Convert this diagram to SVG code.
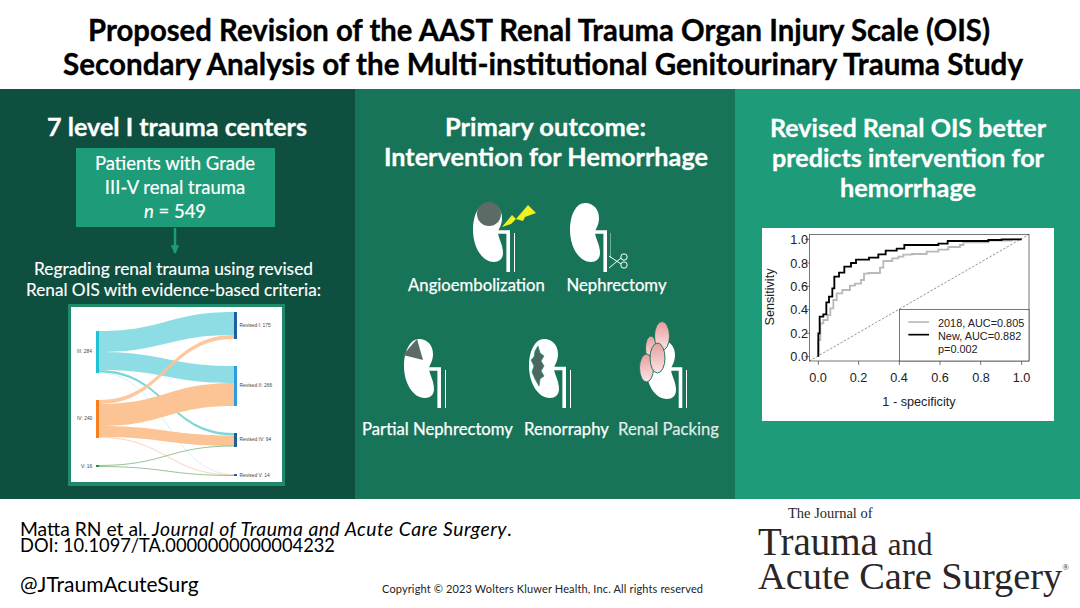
<svg xmlns="http://www.w3.org/2000/svg" width="1080" height="608" viewBox="0 0 1080 608">
<style>
text{font-family:Lato,"Noto Sans",sans-serif}
.title{font-size:29.5px;font-weight:700;fill:#000;stroke:#000;stroke-width:.35px;text-anchor:middle}
.head{font-size:25.3px;font-weight:700;fill:#fff;stroke:#fff;stroke-width:.3px;text-anchor:middle}
.body{font-size:18.5px;fill:#fff;stroke:#fff;stroke-width:.2px;text-anchor:middle}
.lbl{font-size:17.5px;fill:#fff;stroke:#fff;stroke-width:.15px;text-anchor:middle}
.ic{font-size:16.7px;fill:#fff;stroke:#fff;stroke-width:.25px;text-anchor:middle}
text.sk{font-size:4.9px;fill:#444;font-family:"Liberation Sans",sans-serif}
.roc text{font-family:"Liberation Sans",sans-serif;font-size:12.7px;fill:#222}
.roc text.lg{font-size:10.9px}
.mid{text-anchor:middle}
.end{text-anchor:end}
.ln{fill:none;stroke:#fff;stroke-width:3.6}
.th{fill:none;stroke:#fff;stroke-width:1}
.kid{fill:#fff}
text.logo{font-family:"Liberation Serif",serif;fill:#2b2626}
.pack{fill:url(#pg);stroke:#1f7a5f;stroke-width:1}
.a{fill:#8fdde4}.b{fill:#fcc395}
.thin{fill:none;stroke-width:.6}
.foot{fill:#000}
</style>
<defs>
<path id="k" d="M15 0C24 0 29 7 29 15C29 22 26 25 25 29C25 35 30 41 30 50C30 56 26 59 21 59C9 59 0 44 0 27C0 12 6 0 15 0Z"/>
<linearGradient id="pg" x1="0" y1="0" x2="0" y2="1"><stop offset="0" stop-color="#e99c9c"/><stop offset="1" stop-color="#fbe6e6"/></linearGradient>
<marker id="ah" viewBox="0 0 10 10" refX="9" refY="5" markerWidth="3.500" markerHeight="3.500" orient="auto"><path d="M0 0L10 5L0 10Z" fill="#1e9b78"/></marker>
</defs>
<rect width="1080" height="608" fill="#fff"/>
<g id="title">
<text class="title" x="539" y="41" textLength="902" lengthAdjust="spacingAndGlyphs">Proposed Revision of the AAST Renal Trauma Organ Injury Scale (OIS)</text>
<text class="title" x="543" y="75" textLength="960" lengthAdjust="spacingAndGlyphs">Secondary Analysis of the Multi-institutional Genitourinary Trauma Study</text>
</g>
<rect x="0" y="89" width="355" height="410" fill="#0f4f3f"/>
<rect x="355" y="89" width="380" height="410" fill="#177458"/>
<rect x="735" y="89" width="345" height="410" fill="#1e9b78"/>

<g id="left-panel">
<text class="head" x="177" y="136" textLength="260" lengthAdjust="spacingAndGlyphs">7 level I trauma centers</text>
<g id="patients">
<rect x="76" y="148" width="199" height="79" fill="#1e9b78"/>
<text class="body" x="175" y="170">Patients with Grade</text>
<text class="body" x="175" y="194">III-V renal trauma</text>
<text class="body" x="175" y="218"><tspan font-style="italic">n</tspan> = 549</text>
</g>
<g id="connectors"><path d="M175 228V253" stroke="#1e9b78" stroke-width="2.500" fill="none" marker-end="url(#ah)"/></g>
<text class="lbl" x="173.500" y="275" textLength="279" lengthAdjust="spacingAndGlyphs">Regrading renal trauma using revised</text>
<text class="lbl" x="173.500" y="296" textLength="295" lengthAdjust="spacingAndGlyphs">Renal OIS with evidence-based criteria:</text>
</g>

<g id="sankey">
<rect x="68" y="304" width="217" height="182" fill="#1e8a6a"/>
<rect x="71" y="307" width="211" height="175" fill="#fff"/>
<path class="a" d="M99 331C165 331 168 312 234 312V335C168 335 165 352 99 352Z"/>
<path class="a" d="M99 352C165 352 168 366 234 366V383C168 383 165 370 99 370Z"/>
<path class="a" d="M99 370C165 370 168 433 234 433V435.500C168 435.500 165 372.500 99 372.500Z" style="fill:#7fd6d8"/>
<path class="thin" d="M99 372.800C165 372.800 168 474.500 234 474.500" stroke="#bfe6ec"/>
<path class="b" d="M99 400C165 400 168 335 234 335V339C168 339 165 404 99 404Z" fill-opacity=".9"/>
<path class="b" d="M99 404C165 404 168 383 234 383V406C168 406 165 426 99 426Z"/>
<path class="b" d="M99 426C165 426 168 435.500 234 435.500V446C168 446 165 437 99 437Z"/>
<path class="thin" d="M99 437.300C165 437.300 168 475 234 475" stroke="#f7b98a"/>
<path class="thin" d="M99 465.500C165 465.500 168 446 234 446" stroke="#8dbb8d" style="stroke-width:.9"/>
<path class="thin" d="M99 466.500C165 466.500 168 475.500 234 475.500" stroke="#8dbb8d" style="stroke-width:.9"/>
<rect x="96" y="331" width="3" height="42" fill="#1fc3d6"/>
<rect x="96" y="400" width="3" height="38" fill="#f97f1e"/>
<rect x="96" y="465" width="3" height="2" fill="#1f8f2f"/>
<rect x="234" y="312" width="3" height="27" fill="#1f5f9f"/>
<rect x="234" y="366" width="3" height="40" fill="#2e9be0"/>
<rect x="234" y="433" width="3" height="14" fill="#1f5f9f"/>
<rect x="234" y="474" width="3" height="2" fill="#1f5f9f"/>
<text class="sk" x="77" y="353">III: 284</text>
<text class="sk" x="77" y="420">IV: 240</text>
<text class="sk" x="81" y="468">V: 16</text>
<text class="sk" x="239.500" y="327">Revised I: 175</text>
<text class="sk" x="239.500" y="387">Revised II: 266</text>
<text class="sk" x="239.500" y="441">Revised IV: 94</text>
<text class="sk" x="239.500" y="477">Revised V: 14</text>
</g>

<g id="middle-panel">
<text class="head" x="545.500" y="136" textLength="201" lengthAdjust="spacingAndGlyphs">Primary outcome:</text>
<text class="head" x="546" y="166" textLength="324" lengthAdjust="spacingAndGlyphs">Intervention for Hemorrhage</text>
</g>

<g id="angioembolization">
<use href="#k" class="kid" x="473" y="203"/>
<circle cx="489" cy="214" r="12" fill="#5d6b67"/>
<path class="ln" d="M498 232H508.200V272"/><path class="th" d="M514.500 233V272"/>
<path d="M502 227L512 215L516 219L528 205L536 213L525 217L523 221L516 219L511 224Z" fill="#f2f01e"/>
<text class="ic" x="476.500" y="291">Angioembolization</text>
</g>
<g id="nephrectomy">
<use href="#k" class="kid" x="570" y="203"/>
<path class="ln" d="M594 232H605.200V272"/><path class="th" d="M610.500 233V258" stroke-opacity=".4"/>
<g fill="none" stroke="#fff" stroke-width="1"><circle cx="624" cy="257" r="3.200"/><circle cx="624" cy="265" r="3.200"/><path d="M609 256L621 264M609 268L621 258"/></g>
<text class="ic" x="616.500" y="291">Nephrectomy</text>
</g>
<g id="partial-nephrectomy">
<use href="#k" class="kid" x="404" y="339"/>
<path d="M417 339L403 355L423 360Z" fill="#5d6b67"/>
<path class="ln" d="M428 369H439.200V408"/><path class="th" d="M445.500 370V408"/>
<text class="ic" x="437.500" y="435">Partial Nephrectomy</text>
</g>
<g id="renorraphy">
<use href="#k" class="kid" x="529" y="339"/>
<path d="M538 346L540 353L544 356L541 361L544 366L541 371L544 376L540 379L539 386L535 379L532 372L534 366L531 360L534 357L535 351Z" fill="#4f6660" stroke="#1e9b78" stroke-width=".8"/>
<path class="ln" d="M553 368.500H564.200V408"/><path class="th" d="M570.500 370V408"/>
<text class="ic" x="566.500" y="435">Renorraphy</text>
</g>
<g id="renal-packing">
<use href="#k" class="kid" x="646" y="340"/>
<path class="ln" d="M668 369H680.500V408"/><path class="th" d="M686.500 370V408"/>
<ellipse class="pack" cx="651" cy="348" rx="5.500" ry="12"/>
<ellipse class="pack" cx="662" cy="336" rx="7.500" ry="14.500"/>
<ellipse class="pack" cx="646.500" cy="368" rx="7" ry="14"/>
<ellipse class="pack" cx="657.500" cy="358" rx="7.500" ry="15"/>
<text class="ic" x="668.500" y="435" fill-opacity=".85" stroke-opacity=".85">Renal Packing</text>
</g>

<g id="right-panel">
<text class="head" x="908" y="137" textLength="276" lengthAdjust="spacingAndGlyphs">Revised Renal OIS better</text>
<text class="head" x="908" y="167" textLength="272" lengthAdjust="spacingAndGlyphs">predicts intervention for</text>
<text class="head" x="908" y="197">hemorrhage</text>
</g>

<g id="roc">
<rect x="762" y="228" width="292" height="193" fill="#fff"/>
<g transform="translate(755 225) scale(.33333)" fill="none">
<rect x="163" y="28" width="659" height="380" stroke="#333" stroke-width="2"/>
<path d="M163 408L822 28" stroke="#222" stroke-width="1.500" stroke-dasharray="7 5"/>
<path d="M190 408V420M311 408V420M433 408V420M555 408V420M677 408V420M800 408V420M163 395H150M163 325H150M163 254H150M163 184H150M163 114H150M163 43H150" stroke="#333" stroke-width="2"/>
<path d="M190 395V345H196V295H205V285H218V270H226V250H235V225H245V205H262V195H285V182H300V176H318V165H327V146H340V144H375V128H385V108H412V100H430V95H445V89H470V87H515V80H550V74H580V66H615V60H625V52H700V47H770V43H800" stroke="#b9b9b9" stroke-width="5.500"/>
<path d="M190 395V325H194V275H205V268H214V232H222V215H232V190H238V155H252V143H268V125H288V114H303V104H342V98H370V88H392V77H425V71H448V60H550V56H578V48H700V45H740V43H800" stroke="#000" stroke-width="5.500"/>
<rect x="433" y="253" width="389" height="155" fill="#fff" stroke="#333" stroke-width="2"/>
<path d="M460 291H522" stroke="#b9b9b9" stroke-width="5"/>
<path d="M460 329H522" stroke="#000" stroke-width="5"/>
</g>
<g class="roc">
<text class="end" x="808" y="244">1.0</text>
<text class="end" x="808" y="267.500">0.8</text>
<text class="end" x="808" y="290.500">0.6</text>
<text class="end" x="808" y="314">0.4</text>
<text class="end" x="808" y="337.500">0.2</text>
<text class="end" x="808" y="361">0.0</text>
<text class="mid" x="818" y="382">0.0</text>
<text class="mid" x="858.500" y="382">0.2</text>
<text class="mid" x="899" y="382">0.4</text>
<text class="mid" x="940" y="382">0.6</text>
<text class="mid" x="981" y="382">0.8</text>
<text class="mid" x="1021.500" y="382">1.0</text>
<text class="mid" x="919" y="406">1 - specificity</text>
<text class="mid" transform="translate(774 297) rotate(-90)">Sensitivity</text>
<text class="lg" x="938" y="327">2018, AUC=0.805</text>
<text class="lg" x="938" y="339.500">New, AUC=0.882</text>
<text class="lg" x="938" y="353">p=0.002</text>
</g>
</g>

<g id="footer">
<text class="foot" x="20" y="536" font-size="19.300">Matta RN et al. <tspan font-style="italic" letter-spacing=".5">Journal of Trauma and Acute Care Surgery</tspan>.</text>
<text class="foot" x="20" y="552" font-size="18.300">DOI: 10.1097/TA.0000000000004232</text>
<text class="foot" x="20" y="592" font-size="21">@JTraumAcuteSurg</text>
<text x="382" y="593" font-size="11" fill="#222" textLength="321" lengthAdjust="spacing">Copyright © 2023  Wolters Kluwer Health, Inc. All rights reserved</text>
</g>
<g id="logo">
<text class="logo" x="788" y="518" font-size="14.500">The Journal of</text>
<text class="logo" x="758" y="555" font-size="39">Trauma <tspan font-size="31">and</tspan></text>
<text class="logo" x="758" y="589" font-size="38.400">Acute Care Surgery<tspan font-size="9" dy="-19">®</tspan></text>
</g>
</svg>
